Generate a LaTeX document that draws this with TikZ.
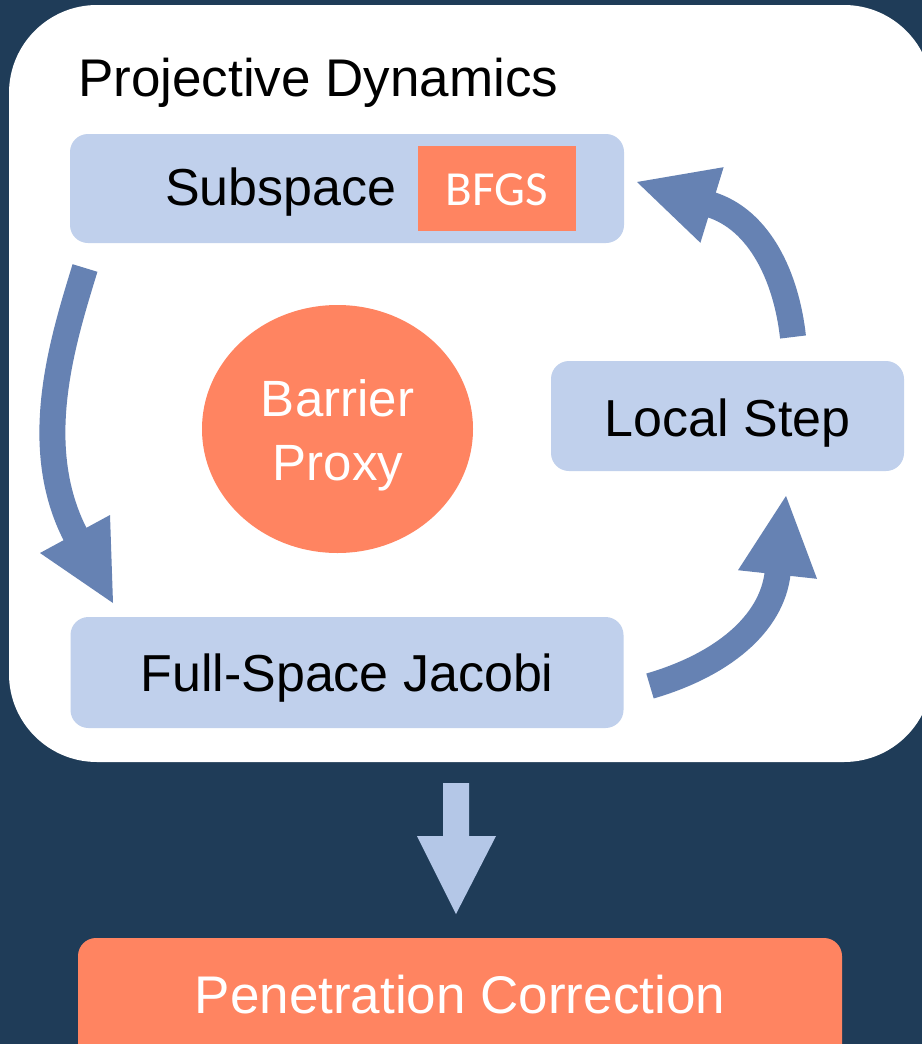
\documentclass[tikz,border=0pt]{standalone}
\usepackage{fontspec}
\setmainfont{Liberation Sans}
\newfontfamily\calib{Carlito}
\definecolor{navy}{HTML}{1F3C58}
\definecolor{boxblue}{HTML}{C0D0EC}
\definecolor{arrowblue}{HTML}{6682B3}
\definecolor{orangey}{HTML}{FF8461}
\definecolor{downblue}{HTML}{B4C7E7}
\begin{document}
\begin{tikzpicture}[x=1pt,y=-1pt,
  stagebox/.style={fill=boxblue,rounded corners=18pt},
  boxlabel/.style={inner sep=0pt,anchor=base,font=\fontsize{52}{62}\selectfont},
  shaft/.style={draw=arrowblue,line width=26pt,line cap=butt},
  headtri/.style={fill=arrowblue}]
\useasboundingbox (0,0) rectangle (922,1044);
\clip (0,0) rectangle (922,1044);
\fill[navy] (0,0) rectangle (922,1044);
% outer white panel
\fill[white,rounded corners=88pt] (9,5) rectangle (932,762);
\node[inner sep=0pt,anchor=base west,font=\fontsize{53}{64}\selectfont] (title) at (78,96) {Projective Dynamics};
% boxes
\fill[stagebox] (70,134) rectangle (624,243);
\fill[orangey] (418,146) rectangle (576,231);
\node[boxlabel,anchor=base west] (sub) at (165,205) {Subspace};
\node[inner sep=0pt,anchor=base,text=white,font=\calib\fontsize{49}{58}\selectfont] (bfgs) at (497,205) {BFGS};
\fill[stagebox] (551,361) rectangle (904,471);
\node[boxlabel] (local) at (727.5,436) {Local Step};
\fill[stagebox] (70.5,617) rectangle (623.5,728);
\node[boxlabel] (full) at (347,691) {Full-Space Jacobi};
% barrier proxy
\fill[orangey] (337.5,429) ellipse [x radius=135.5, y radius=124];
\node[inner sep=0pt,anchor=base,text=white,font=\fontsize{51}{64}\selectfont] (bar) at (337.5,416) {Barrier};
\node[inner sep=0pt,anchor=base,text=white,font=\fontsize{51}{64}\selectfont] (prox) at (338,480) {Proxy};
% left arrow
\coordinate (la0) at (85,268);
\coordinate (la1) at (76,536);
\draw[shaft] (la0) .. controls (63,340) and (29,446) .. (la1);
\fill[headtri] (40,553) -- (113,603) -- (110,515) -- cycle;
% upper right arrow
\coordinate (ua0) at (793,337);
\coordinate (ua1) at (710,204.4);
\draw[shaft] (ua0) .. controls (786.4,277.4) and (759.9,219.7) .. (ua1);
\fill[headtri] (723.6,167.2) -- (637,182) -- (700.4,242.8) -- cycle;
% lower right arrow
\coordinate (ra0) at (650,686);
\coordinate (ra1) at (777.7,572.5);
\draw[shaft] (ra0) .. controls (722,665) and (772,624.2) .. (ra1);
\fill[headtri] (738,570.2) -- (786,496) -- (817,578.8) -- cycle;
% down arrow
\fill[downblue] (443,783) -- (469,783) -- (469,836) -- (496,836) -- (456,914) -- (417,836) -- (443,836) -- cycle;
% penetration correction
\fill[orangey,rounded corners=18pt] (78,938) rectangle (842,1080);
\node[inner sep=0pt,anchor=base,text=white,font=\fontsize{53}{64}\selectfont] (pen) at (460,1013) {Penetration Correction};
\end{tikzpicture}
\end{document}
